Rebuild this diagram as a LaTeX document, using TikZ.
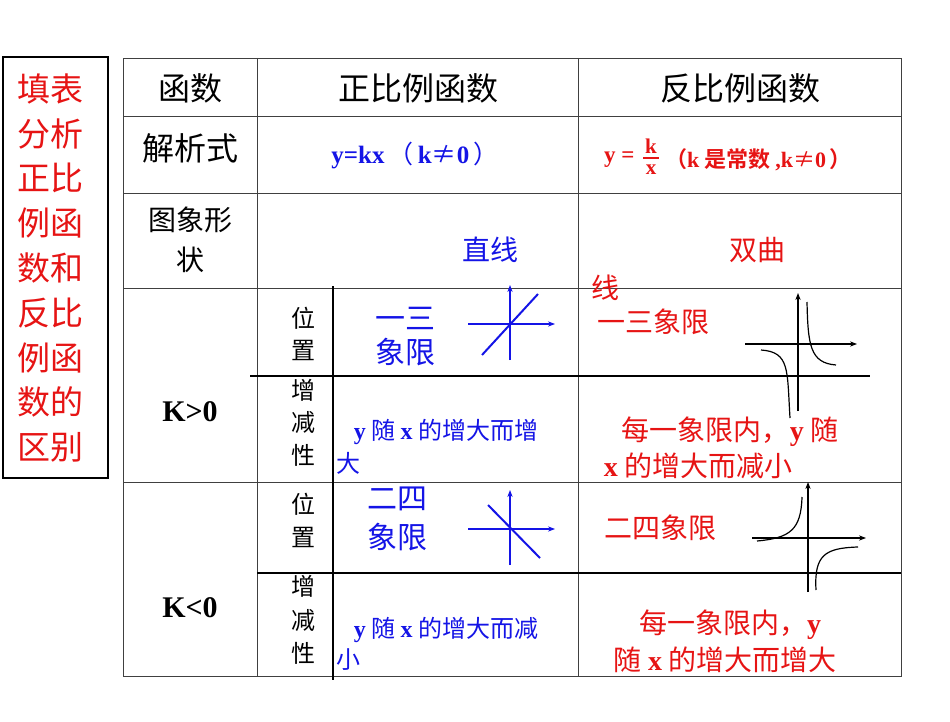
\documentclass[tikz,border=0pt]{standalone}
\usepackage{fontspec}
\setmainfont{Liberation Serif}
\newfontfamily\cjk{Noto Sans CJK SC}[BoldFont={Noto Sans CJK SC Bold}]
\newfontfamily\lat{Liberation Serif}
\newcommand{\LL}[1]{{\lat\bfseries #1}}
\usetikzlibrary{arrows.meta}
\definecolor{rd}{RGB}{230,20,20}
\definecolor{bl}{RGB}{20,20,230}
\tikzset{
  grid/.style={line width=0.8pt,black!75},
  thick2/.style={line width=1.8pt,black},
  tx/.style={inner sep=0pt,font=\cjk\fontsize{#1}{#1}\selectfont},
  ax/.style={line width=1.2pt,-{Stealth[length=7pt]}},
  crv/.style={line width=1.2pt},
  bline/.style={line width=2pt}
}
\begin{document}
\begin{tikzpicture}[x=1pt,y=-1pt]
\useasboundingbox (0,0) rectangle (950,722);
% left box
\draw[thick2] (3,57) rectangle (108,478);
\foreach \t [count=\i] in {填表,分析,正比,例函,数和,反比,例函,数的,区别}
  \node[tx=33,text=rd] (L\i) at (50,44+\i*44.8) {\t};
% table
\draw[grid] (123,58) rectangle (901,676);
\foreach \y in {116,193,288,482} \draw[grid] (123,\y) -- (901,\y);
\draw[grid] (257,58) -- (257,676);
\draw[grid] (578,58) -- (578,676);
\draw[thick2,line width=1.4pt] (250,376) -- (870,376);
\draw[thick2,line width=1.4pt] (257,573) -- (901,573);
\draw[thick2] (333,286) -- (333,680);
% header
\node[tx=32] (h1) at (190,88) {函数};
\node[tx=32] (h2) at (418,88) {正比例函数};
\node[tx=32] (h3) at (740,88) {反比例函数};
\node[tx=32] (r1) at (190,148) {解析式};
\node[tx=25,text=bl] (f1) at (415,155) {\LL{y=kx}\,（\,\LL{k}≠\LL{0}\,）};
\node[tx=23,text=rd,anchor=west] (f2a) at (604,160) {\LL{y =}};
\node[tx=21,text=rd] (fk) at (651,146) {\LL{k}};
\node[tx=21,text=rd] (fx) at (651,170) {\LL{x}};
\draw[rd,line width=1.5pt] (643,158) -- (659,158);
\node[tx=22,text=rd,anchor=west] (f2b) at (665,160) {\textbf{（}\LL{k} \textbf{是常数} \LL{,k}≠\LL{0}\,\textbf{）}};
\node[tx=28] (r2a) at (190,220) {图象形};
\node[tx=28] (r2b) at (190,260) {状};
\node[tx=28,text=bl] (zx) at (490,250) {直线};
\node[tx=28,text=rd] (sq) at (757,250) {双曲};
\node[tx=28,text=rd] (sq2) at (605,288) {线};
% K
\node[inner sep=0pt,font=\lat\fontsize{30}{30}\selectfont\bfseries] (kp) at (190,412) {K>0};
\node[inner sep=0pt,font=\lat\fontsize{30}{30}\selectfont\bfseries] (kn) at (190,608) {K<0};
\foreach \t/\y in {位/318,置/350,增/390,减/422,性/455,位/504,置/537,增/586,减/620,性/653}
  \node[tx=24] at (303,\y) {\t};
\node[tx=30,text=bl] (p1) at (405,318) {一三};
\node[tx=30,text=bl] (p2) at (405,352) {象限};
\node[tx=24,text=bl] (m1) at (446,432) {\LL{y} 随 \LL{x} 的增大而增};
\node[tx=24,text=bl] (m2) at (348,463) {大};
\node[tx=28,text=rd] (q1) at (653,322) {一三象限};
\node[tx=28,text=rd] (n1) at (730,432) {每一象限内，\LL{y} 随};
\node[tx=28,text=rd] (n2) at (698,466) {\LL{x} 的增大而减小};
\node[tx=30,text=bl] (p3) at (397,499) {二四};
\node[tx=30,text=bl] (p4) at (397,537) {象限};
\node[tx=24,text=bl] (m3) at (446,630) {\LL{y} 随 \LL{x} 的增大而减};
\node[tx=24,text=bl] (m4) at (348,660) {小};
\node[tx=28,text=rd] (q2) at (660,528) {二四象限};
\node[tx=28,text=rd] (n3) at (730,625) {每一象限内，\LL{y}};
\node[tx=28,text=rd] (n4) at (725,660) {随 \LL{x} 的增大而增大};
% blue graphs
\begin{scope}[bl]
\draw[ax] (468,324) -- (555,324);
\draw[ax] (510,360) -- (510,285);
\draw[bline] (482,355) -- (538,294);
\draw[ax] (468,529) -- (555,529);
\draw[ax] (510,565) -- (510,490);
\draw[bline] (488,505) -- (540,558);
\end{scope}
% hyperbolas
\draw[ax] (745,344) -- (857,344);
\draw[ax] (798,411) -- (798,293);
\draw[crv] (807,302) .. controls (808,345) and (810,363) .. (836,365);
\draw[crv] (761,350) .. controls (790,352) and (787,370) .. (790,418);
\draw[ax] (752,538) -- (866,538);
\draw[ax] (808,592) -- (808,482);
\draw[crv] (802,497) .. controls (801,530) and (790,538) .. (757,541);
\draw[crv] (816,590) .. controls (814,555) and (825,548) .. (858,547);
\end{tikzpicture}
\end{document}
